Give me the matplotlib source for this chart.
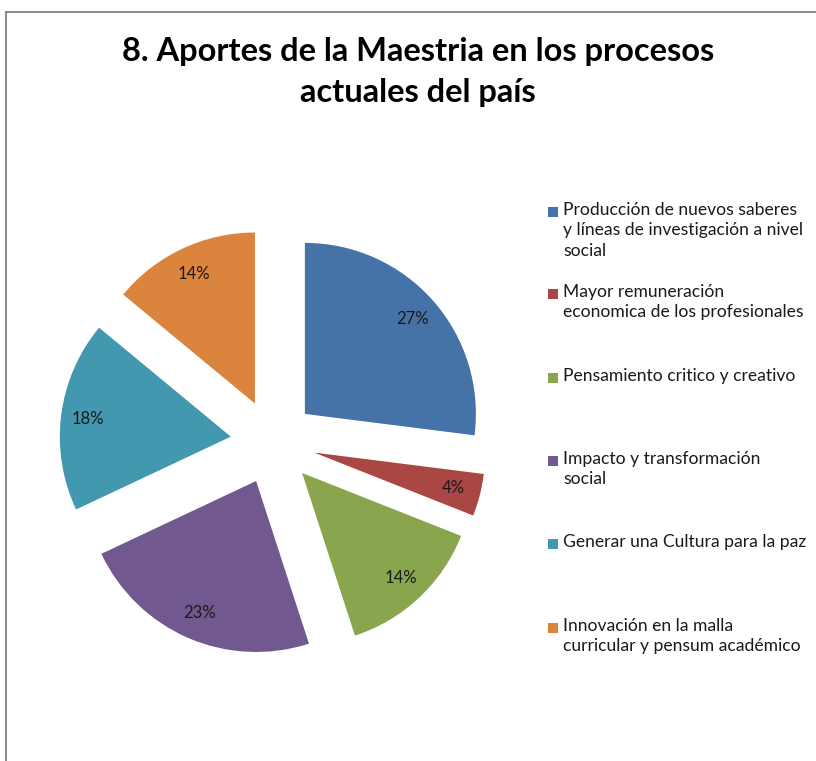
import matplotlib.pyplot as plt
from matplotlib.lines import Line2D
from matplotlib.patches import Rectangle

plt.rcParams['font.family'] = ['Lato', 'DejaVu Sans']

W, H = 816, 761

title = "8. Aportes de la Maestria en los procesos\nactuales del país"
labels = [
    "Producción de nuevos saberes\ny líneas de investigación a nivel\nsocial",
    "Mayor remuneración\neconomica de los profesionales",
    "Pensamiento critico y creativo",
    "Impacto y transformación\nsocial",
    "Generar una Cultura para la paz",
    "Innovación en la malla\ncurricular y pensum académico",
]
values = [27, 4, 14, 23, 18, 14]
colors = ['#4572A7', '#AA4643', '#89A54E', '#71588F', '#4198AF', '#DB843D']

fig = plt.figure(figsize=(W / 100, H / 100), dpi=100)
ax = fig.add_axes([0, 0, 1, 1])

# pie drawn in pixel-like data coords; explode is absolute in matplotlib
wedges, texts, autotexts = ax.pie(
    values, colors=colors, startangle=90, counterclock=False,
    center=(273, H - 442), radius=171, explode=[42.5] * len(values),
    autopct='%d%%', pctdistance=0.84,
    textprops=dict(fontsize=12, color='#1a1a1a'),
    wedgeprops=dict(linewidth=0), frame=True)
ax.set_xlim(0, W)
ax.set_ylim(0, H)
ax.set_aspect('equal')
ax.axis('off')

fig.text(418 / W, 1 - 72 / H, title, ha='center', va='center',
         fontsize=23.5, fontweight='bold', linespacing=1.52)

# legend
leg_y = [212, 294, 378, 461, 544, 628]
for lab, col, y in zip(labels, colors, leg_y):
    ax.add_patch(Rectangle((548, H - y - 5), 10, 10, color=col, lw=0))
    ax.text(563, H - y + 10, lab, ha='left', va='top', fontsize=12.6,
            color='#1a1a1a', linespacing=1.34)

# outer frame
fig.add_artist(Line2D([6 / W, 6 / W], [0, 1 - 12 / H], color='#8c8c8c', lw=1.5))
fig.add_artist(Line2D([6 / W, 1], [1 - 12 / H, 1 - 12 / H], color='#8c8c8c', lw=1.5))

fig.savefig('out.png', dpi=100)
